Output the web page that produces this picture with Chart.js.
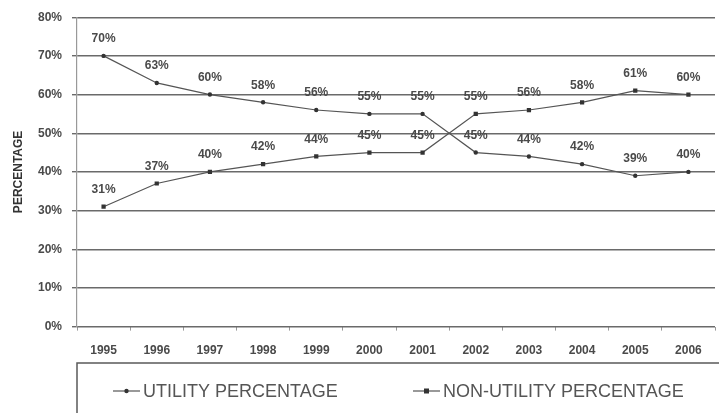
<!DOCTYPE html>
<html>
<head>
<meta charset="utf-8">
<style>
  html, body { margin: 0; padding: 0; background: #fff; }
  #wrap { width: 719px; height: 413px; position: relative; }
</style>
<script src="https://cdn.jsdelivr.net/npm/chart.js@4/dist/chart.umd.min.js"></script>
</head>
<body>
<div id="wrap"><canvas id="c" width="719" height="413"></canvas></div>
<script>
const years = ['1995','1996','1997','1998','1999','2000','2001','2002','2003','2004','2005','2006'];
const utility = [70, 63, 60, 58, 56, 55, 55, 45, 44, 42, 39, 40];
const nonUtility = [31, 37, 40, 42, 44, 45, 45, 55, 56, 58, 61, 60];
const yTicks = [0, 10, 20, 30, 40, 50, 60, 70, 80];
const seriesNames = ['UTILITY PERCENTAGE', 'NON-UTILITY PERCENTAGE'];
const axisTitle = 'PERCENTAGE';

const SMALL = 'bold 12px "Liberation Sans", Arial, sans-serif';

const valueLabels = {
  id: 'valueLabels',
  afterDatasetsDraw(chart) {
    const ctx = chart.ctx;
    ctx.save();
    ctx.font = SMALL;
    ctx.fillStyle = '#4a4a4a';
    ctx.textAlign = 'center';
    ctx.textBaseline = 'middle';
    chart.data.datasets.forEach((ds, i) => {
      const meta = chart.getDatasetMeta(i);
      meta.data.forEach((pt, j) => {
        ctx.fillText(ds.data[j] + '%', pt.x, pt.y - 17);
      });
    });
    ctx.restore();
  }
};

const boxLegend = {
  id: 'boxLegend',
  afterDraw(chart) {
    const ctx = chart.ctx;
    const left = chart.chartArea.left;
    const top = 363;
    ctx.save();
    ctx.strokeStyle = '#5a5a5a';
    ctx.lineWidth = 1.5;
    ctx.strokeRect(left, top, chart.width - left + 10, 80);
    const items = [
      { x: 113, ds: 0 },
      { x: 413, ds: 1 }
    ];
    const y = 391;
    items.forEach(it => {
      const ds = chart.data.datasets[it.ds];
      ctx.strokeStyle = '#555';
      ctx.lineWidth = 1.2;
      ctx.beginPath();
      ctx.moveTo(it.x, y);
      ctx.lineTo(it.x + 27, y);
      ctx.stroke();
      ctx.fillStyle = '#333';
      if (ds.pointStyle === 'rect') {
        ctx.fillRect(it.x + 11, y - 2.5, 5, 5);
      } else {
        ctx.beginPath();
        ctx.arc(it.x + 13.5, y, 2.2, 0, Math.PI * 2);
        ctx.fill();
      }
      ctx.font = '18px "Liberation Sans", Arial, sans-serif';
      ctx.fillStyle = '#555';
      ctx.textAlign = 'left';
      ctx.textBaseline = 'middle';
      ctx.fillText(ds.label, it.x + 30, y + 1);
    });
    ctx.restore();
  }
};

new Chart(document.getElementById('c'), {
  type: 'line',
  data: {
    labels: years,
    datasets: [
      {
        label: seriesNames[0],
        data: utility,
        borderColor: '#555',
        borderWidth: 1.2,
        backgroundColor: '#333',
        pointBackgroundColor: '#333',
        pointBorderColor: '#333',
        pointStyle: 'circle',
        pointRadius: 2.2,
        pointBorderWidth: 0,
        tension: 0
      },
      {
        label: seriesNames[1],
        data: nonUtility,
        borderColor: '#555',
        borderWidth: 1.2,
        backgroundColor: '#333',
        pointBackgroundColor: '#333',
        pointBorderColor: '#333',
        pointStyle: 'rect',
        pointRadius: 3,
        pointBorderWidth: 0,
        tension: 0
      }
    ]
  },
  options: {
    responsive: false,
    animation: false,
    devicePixelRatio: 1,
    layout: { padding: { left: 11, right: 0, top: 10, bottom: 42 } },
    plugins: {
      legend: { display: false },
      tooltip: { enabled: false }
    },
    scales: {
      x: {
        type: 'category',
        offset: true,
        grid: {
          display: true,
          offset: true,
          drawOnChartArea: false,
          drawTicks: true,
          tickLength: 4,
          color: '#999',
          lineWidth: 1
        },
        border: { display: false },
        ticks: {
          font: { family: '"Liberation Sans", Arial, sans-serif', size: 12, weight: 'bold' },
          color: '#4a4a4a',
          padding: 13,
          maxRotation: 0,
          autoSkip: false
        }
      },
      y: {
        min: 0,
        max: 80,
        afterBuildTicks(scale) {
          scale.ticks = yTicks.map(v => ({ value: v }));
        },
        afterFit(scale) { scale.width = 66; },
        grid: {
          color: '#6a6a6a',
          lineWidth: 1.4,
          tickLength: 5,
          drawTicks: true
        },
        border: { display: true, color: '#999', width: 1.2 },
        ticks: {
          font: { family: '"Liberation Sans", Arial, sans-serif', size: 12, weight: 'bold' },
          color: '#4a4a4a',
          padding: 10,
          callback: v => v + '%'
        },
        title: {
          display: true,
          text: axisTitle,
          font: { family: '"Liberation Sans", Arial, sans-serif', size: 12, weight: 'bold' },
          color: '#333',
          padding: 0
        }
      }
    }
  },
  plugins: [valueLabels, boxLegend]
});
</script>
</body>
</html>
